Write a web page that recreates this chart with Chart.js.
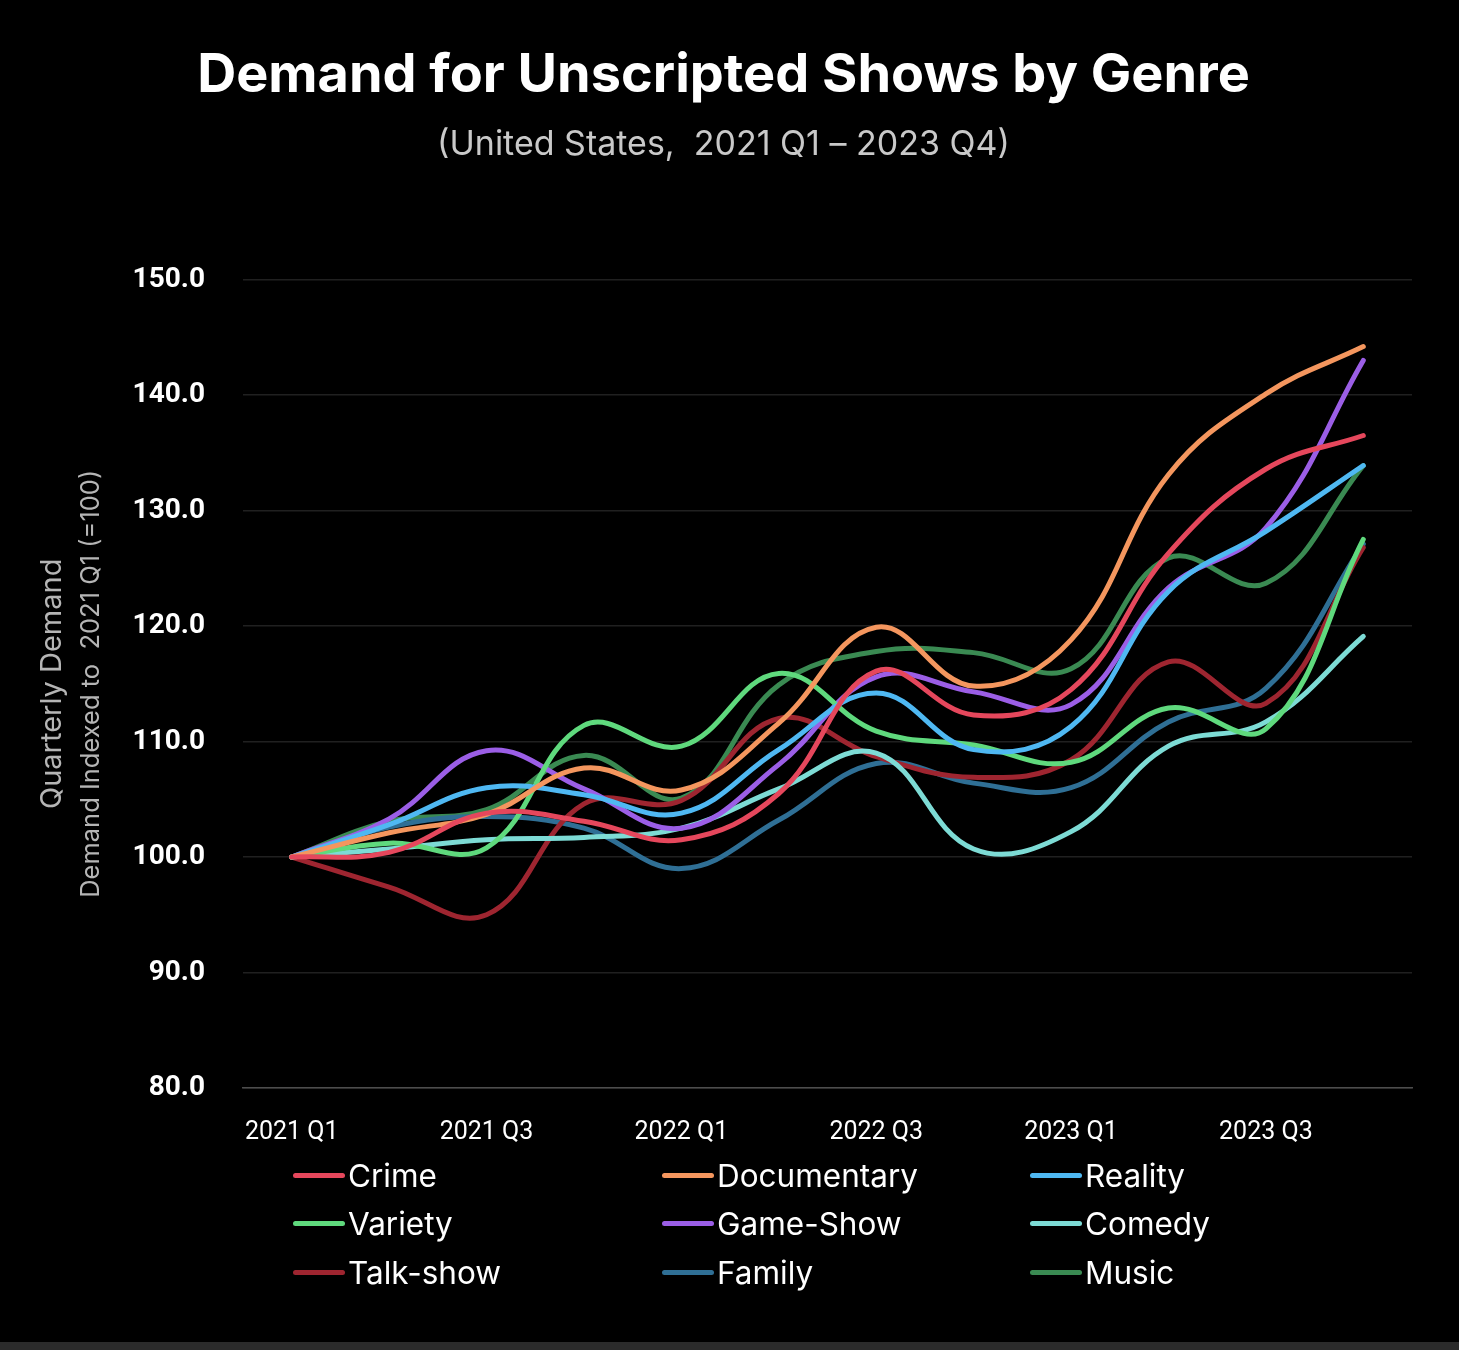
<!DOCTYPE html>
<html>
<head>
<meta charset="utf-8">
<title>Demand for Unscripted Shows by Genre</title>
<script src="https://cdn.jsdelivr.net/npm/chart.js@4.4.1/dist/chart.umd.min.js"></script>
<style>
    html, body { margin: 0; padding: 0; background: #000; }
    #wrap { position: relative; width: 1459px; height: 1350px; overflow: hidden; background: #000; }
    #chart-box { position: absolute; left: 0; top: 0; width: 1459px; height: 1190px; }
    #legend {
        position: absolute; left: 293px; top: 1151px;
        display: grid; grid-template-columns: 369px 368px 300px;
    }
    .legend-item {
        display: flex; align-items: center; height: 48.5px;
        font-family: Inter, 'Noto Sans', sans-serif; font-size: 31.5px; color: #fff;
    }
    .legend-swatch { width: 52px; height: 5px; border-radius: 3px; margin-right: 3px; }
    #footer { position: absolute; left: 0; bottom: 0; width: 100%; height: 8px; background: #2b2b2b; }
</style>
</head>
<body>
<div id="wrap">
    <div id="chart-box"><canvas id="demandChart"></canvas></div>
    <div id="legend"></div>
    <div id="footer"></div>
</div>
<script>
// Quarters on the x axis (every other one gets a label)
const quarters = ['2021 Q1', '2021 Q2', '2021 Q3', '2021 Q4', '2022 Q1', '2022 Q2',
                  '2022 Q3', '2022 Q4', '2023 Q1', '2023 Q2', '2023 Q3', '2023 Q4'];

// Demand indexed to 2021 Q1 (=100)
const crime       = [100, 100.4, 103.8, 103.1, 101.5, 105.5, 116.1, 112.3, 114.5, 126.3, 133.6, 136.5];
const documentary = [100, 102.1, 103.7, 107.7, 105.8, 111.6, 119.9, 114.8, 118.8, 133.1, 140.1, 144.2];
const reality     = [100, 102.8, 106.0, 105.4, 103.8, 109.3, 114.2, 109.3, 111.3, 123.0, 128.2, 133.9];
const variety     = [100, 101.2, 100.8, 111.4, 109.6, 115.9, 110.9, 109.7, 108.2, 112.9, 111.1, 127.5];
const gameShow    = [100, 103.3, 109.2, 105.9, 102.5, 108.0, 115.6, 114.3, 113.2, 123.3, 128.5, 143.0];
const comedy      = [100, 100.7, 101.5, 101.7, 102.5, 105.9, 109.0, 100.7, 102.2, 109.6, 111.7, 119.1];
const talkShow    = [100, 97.4, 95.0, 104.6, 104.9, 112.0, 108.7, 106.9, 108.4, 116.9, 113.3, 126.8];
const family      = [100, 102.6, 103.5, 102.5, 99.0, 103.2, 108.1, 106.4, 106.0, 111.7, 114.6, 127.1];
const music       = [100, 103.1, 104.1, 108.8, 105.1, 114.9, 117.8, 117.7, 116.3, 125.9, 123.7, 133.9];

const genreNames  = ['Crime', 'Documentary', 'Reality', 'Variety', 'Game-Show', 'Comedy', 'Talk-show', 'Family', 'Music'];
const genreSeries = [crime, documentary, reality, variety, gameShow, comedy, talkShow, family, music];
const genreColors = ['#e5475c', '#f4965e', '#4fb8f2', '#5fd97d', '#9b5ee6', '#7ddbd5', '#9e2530', '#2f6f95', '#3a8a52'];

const tickFont = "Roboto, 'Noto Sans', sans-serif";
const roundFont = "Inter, 'Noto Sans', sans-serif";

function buildDatasets() {
    return genreNames.map((name, i) => ({
        label: name,
        data: genreSeries[i],
        yAxisID: 'y',
        borderColor: genreColors[i],
        backgroundColor: genreColors[i],
        borderWidth: 5,
        borderCapStyle: 'round',
        pointRadius: 0,
        pointHoverRadius: 0,
        tension: 0.4,
        fill: false
    }));
}

function buildLegend(chart) {
    // Three-column legend under the plot, like the reference
    const box = document.getElementById('legend');
    chart.data.datasets.forEach(ds => {
        const item = document.createElement('div');
        item.className = 'legend-item';
        const sw = document.createElement('span');
        sw.className = 'legend-swatch';
        sw.style.background = ds.borderColor;
        const txt = document.createElement('span');
        txt.textContent = ds.label;
        item.appendChild(sw);
        item.appendChild(txt);
        box.appendChild(item);
    });
}

const ctx = document.getElementById('demandChart');
const demandChart = new Chart(ctx, {
    type: 'line',
    data: {
        labels: quarters,
        datasets: buildDatasets()
    },
    options: {
        responsive: true,
        maintainAspectRatio: false,
        animation: false,
        layout: {
            padding: { left: 35, right: 47, top: 43, bottom: 12 }
        },
        plugins: {
            legend: { display: false },
            tooltip: { enabled: false },
            title: {
                display: true,
                text: 'Demand for Unscripted Shows by Genre',
                color: '#ffffff',
                font: { family: roundFont, size: 54, weight: '700' },
                padding: { top: 0, bottom: 17 }
            },
            subtitle: {
                display: true,
                text: '(United States,  2021 Q1 – 2023 Q4)',
                color: '#c9c9c9',
                font: { family: roundFont, size: 34 },
                padding: { top: 0, bottom: 114 }
            }
        },
        scales: {
            x: {
                offset: true,
                grid: { display: false, drawTicks: false },
                border: { display: true, color: '#4d4d4d', width: 1.5 },
                ticks: {
                    color: '#ffffff',
                    autoSkip: false,
                    maxRotation: 0,
                    padding: 30,
                    font: { family: tickFont, size: 25 },
                    callback: function (value, index) {
                        return index % 2 === 0 ? this.getLabelForValue(value) : '';
                    }
                }
            },
            y: {
                position: 'left',
                weight: 1,
                min: 80,
                max: 150,
                grid: { color: '#202020', lineWidth: 1.5, drawTicks: false },
                border: { display: false },
                ticks: {
                    stepSize: 10,
                    color: '#ffffff',
                    padding: 38,
                    font: { family: tickFont, size: 28, weight: 'bold' },
                    callback: v => v.toFixed(1)
                },
                title: {
                    display: true,
                    text: 'Demand Indexed to  2021 Q1 (=100)',
                    color: '#b5b5b5',
                    font: { family: roundFont, size: 25.5, lineHeight: 1.2 },
                    padding: { top: 6, bottom: 0 }
                },
                afterFit: scale => { scale.width = 243 - 35 - 34.8; }
            },
            // outer, tick-less axis that only carries the first title line
            yTitle: {
                type: 'linear',
                position: 'left',
                weight: 2,
                grid: { display: false, drawTicks: false },
                border: { display: false },
                ticks: { display: false },
                title: {
                    display: true,
                    text: 'Quarterly Demand',
                    color: '#b5b5b5',
                    font: { family: roundFont, size: 29, lineHeight: 1.2 },
                    padding: { top: 0, bottom: 0 }
                }
            }
        }
    }
});

buildLegend(demandChart);
</script>
</body>
</html>
